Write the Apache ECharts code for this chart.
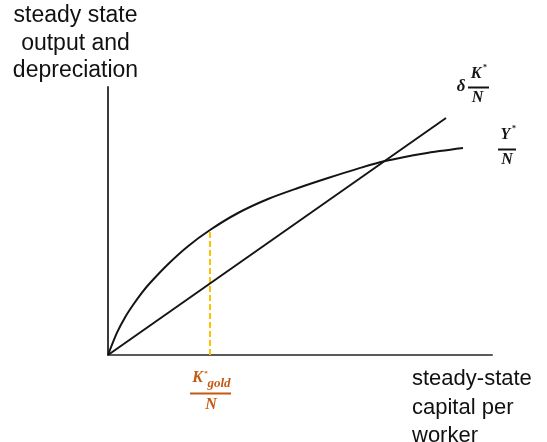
<!DOCTYPE html>
<html>
<head>
<meta charset="utf-8">
<script src="https://cdn.jsdelivr.net/npm/echarts@6/dist/echarts.min.js"></script>
<style>
  html, body { margin: 0; padding: 0; background: #fff; }
  #chart { width: 547px; height: 442px; }
</style>
</head>
<body>
<div id="chart"></div>
<script>
// Capital per worker (k) and steady-state output per worker Y*/N
var capital = [0, 2.25, 4.25, 6.25, 8.5, 10.5, 15, 20, 25.5, 32.5, 40, 47.5, 55, 62.5, 69.25, 79, 88.75];
var output  = [0, 5.6, 9.4, 12.5, 15.6, 18, 22.7, 27.2, 31.25, 35.5, 39, 41.75, 44.25, 46.6, 48.5, 50.4, 51.75];

// Depreciation line δK*/N: straight ray from the origin
var deprCapital = [0, 84.5];
var deprValues  = [0, 59.25];

// Golden-rule capital level and the output it yields
var kGold = 25.5;
var yGold = 31.25;

var axisMaxX = 96;
var axisMaxY = 67;

var chart = echarts.init(document.getElementById('chart'));

function pairs(xs, ys) {
  return xs.map(function (x, i) { return [x, ys[i]]; });
}

var serif = '"Liberation Serif", "DejaVu Serif", serif';
var sans = '"Liberation Sans", Arial, sans-serif';
var ink = '#141414';
var gold = '#C65911';

chart.setOption({
  animation: false,
  backgroundColor: '#ffffff',
  grid: { left: 108, right: 55, top: 87, bottom: 87 },
  xAxis: {
    type: 'value', min: 0, max: axisMaxX,
    axisLine: { show: true, onZero: false, lineStyle: { color: '#5a5a5a', width: 2 } },
    axisTick: { show: false }, axisLabel: { show: false }, splitLine: { show: false }
  },
  yAxis: {
    type: 'value', min: 0, max: axisMaxY,
    axisLine: { show: true, onZero: false, lineStyle: { color: '#3a3a3a', width: 2 } },
    axisTick: { show: false }, axisLabel: { show: false }, splitLine: { show: false }
  },
  series: [
    {
      name: 'Y*/N', type: 'line', data: pairs(capital, output),
      smooth: 0.3, symbol: 'none',
      lineStyle: { color: ink, width: 2 }
    },
    {
      name: 'δK*/N', type: 'line', data: pairs(deprCapital, deprValues),
      symbol: 'none', lineStyle: { color: ink, width: 2 }
    },
    {
      name: 'K*gold', type: 'line', data: [[kGold, 0], [kGold, yGold]],
      symbol: 'none', z: 1,
      lineStyle: { color: '#FFC000', width: 2, type: [6, 3] }
    }
  ],
  graphic: [
    {
      type: 'text', x: 75.5, y: 2,
      style: {
        text: 'steady state\noutput and\ndepreciation',
        font: '23px ' + sans, fill: '#111', align: 'center', verticalAlign: 'top',
        lineHeight: 27.5
      }
    },
    {
      type: 'text', x: 412, y: 365,
      style: {
        text: 'steady-state\ncapital per\nworker',
        font: '22px ' + sans, fill: '#111', align: 'left', verticalAlign: 'top',
        lineHeight: 28.5
      }
    },
    // δ K*/N
    { type: 'text', x: 461, y: 87, style: { text: 'δ', font: 'italic bold 17px ' + serif, fill: ink, align: 'center', verticalAlign: 'middle' } },
    { type: 'text', x: 476, y: 74, style: { text: 'K', font: 'italic bold 16px ' + serif, fill: ink, align: 'center', verticalAlign: 'middle' } },
    { type: 'text', x: 485, y: 68, style: { text: '*', font: 'bold 8px ' + serif, fill: ink, align: 'center', verticalAlign: 'middle' } },
    { type: 'line', shape: { x1: 468, y1: 87.5, x2: 489, y2: 87.5 }, style: { stroke: ink, lineWidth: 2 } },
    { type: 'text', x: 477.5, y: 98, style: { text: 'N', font: 'italic bold 16px ' + serif, fill: ink, align: 'center', verticalAlign: 'middle' } },
    // Y*/N
    { type: 'text', x: 505.5, y: 135, style: { text: 'Y', font: 'italic bold 16px ' + serif, fill: ink, align: 'center', verticalAlign: 'middle' } },
    { type: 'text', x: 514, y: 129, style: { text: '*', font: 'bold 8px ' + serif, fill: ink, align: 'center', verticalAlign: 'middle' } },
    { type: 'line', shape: { x1: 498, y1: 149.5, x2: 516, y2: 149.5 }, style: { stroke: ink, lineWidth: 2 } },
    { type: 'text', x: 507, y: 160, style: { text: 'N', font: 'italic bold 16px ' + serif, fill: ink, align: 'center', verticalAlign: 'middle' } },
    // K*gold / N
    { type: 'text', x: 197.5, y: 378, style: { text: 'K', font: 'italic bold 16px ' + serif, fill: gold, align: 'center', verticalAlign: 'middle' } },
    { type: 'text', x: 206, y: 373, style: { text: '*', font: 'bold 7px ' + serif, fill: gold, align: 'center', verticalAlign: 'middle' } },
    { type: 'text', x: 219, y: 384, style: { text: 'gold', font: 'italic bold 13px ' + serif, fill: gold, align: 'center', verticalAlign: 'middle' } },
    { type: 'line', shape: { x1: 190, y1: 393.5, x2: 231, y2: 393.5 }, style: { stroke: gold, lineWidth: 2 } },
    { type: 'text', x: 211, y: 405, style: { text: 'N', font: 'italic bold 16px ' + serif, fill: gold, align: 'center', verticalAlign: 'middle' } }
  ]
});
</script>
</body>
</html>
